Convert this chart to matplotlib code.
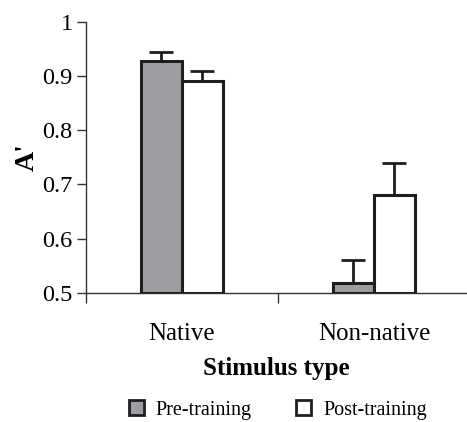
import matplotlib
matplotlib.use("Agg")
import matplotlib.pyplot as plt
from matplotlib.patches import Patch
import numpy as np

categories = ["Native", "Non-native"]
pre_training = [0.928, 0.518]
post_training = [0.891, 0.681]
pre_err = [0.017, 0.043]
post_err = [0.019, 0.059]
series_labels = ["Pre-training", "Post-training"]
yticks = [0.5, 0.6, 0.7, 0.8, 0.9, 1.0]
ytick_labels = ["0.5", "0.6", "0.7", "0.8", "0.9", "1"]

plt.rcParams['font.family'] = ['Liberation Serif', 'DejaVu Serif']

fig = plt.figure(figsize=(4.67, 4.22), dpi=100)
ax = fig.add_axes([0.184, 0.306, 0.814, 0.642])

x = np.arange(len(categories))
w = 0.214
edge = '#1e1e1e'
ax.bar(x - w/2, [v - 0.5 for v in pre_training], w, bottom=0.5, color='#9d9ea1',
       edgecolor=edge, linewidth=2.2, zorder=3)
ax.bar(x + w/2, [v - 0.5 for v in post_training], w, bottom=0.5, color='white',
       edgecolor=edge, linewidth=2.2, zorder=3)
ax.errorbar(x - w/2, pre_training, yerr=[[0]*len(pre_err), pre_err], fmt='none',
            ecolor=edge, elinewidth=2.0, capsize=8.5, capthick=2.0, zorder=2)
ax.errorbar(x + w/2, post_training, yerr=[[0]*len(post_err), post_err], fmt='none',
            ecolor=edge, elinewidth=2.0, capsize=8.5, capthick=2.0, zorder=2)

ax.set_xlim(-0.5, 1.48)
ax.set_ylim(0.5, 1.0)
ax.set_yticks(yticks)
ax.set_yticklabels(ytick_labels, fontsize=17.5)
ax.set_xticks(x)
ax.set_xticklabels(categories, fontsize=18)
ax.set_xticks([-0.5, 0.5], minor=True)
ax.tick_params(axis='x', which='major', length=0, pad=22)
ax.tick_params(axis='x', which='minor', length=7.5, width=1, color='#333333', direction='out')
ax.tick_params(axis='y', length=6.5, width=1, color='#333333', direction='out', pad=3)

for s in ['top', 'right']:
    ax.spines[s].set_visible(False)
for s in ['left', 'bottom']:
    ax.spines[s].set_color('#333333')
    ax.spines[s].set_linewidth(1.0)
ax.spines['left'].set_bounds(0.5, 1.0)

ax.set_ylabel("A'", fontsize=20, fontweight='bold', labelpad=2)
ax.set_xlabel("Stimulus type", fontsize=18, fontweight='bold', labelpad=8)

handles = [Patch(facecolor='#9d9ea1', edgecolor=edge, linewidth=2.0, label=series_labels[0]),
           Patch(facecolor='white', edgecolor=edge, linewidth=2.0, label=series_labels[1])]
fig.legend(handles=handles, loc='center', bbox_to_anchor=(0.595, 0.028), ncol=2,
           frameon=False, fontsize=14.5, handlelength=0.75, handleheight=0.75,
           handletextpad=0.6, columnspacing=2.2)

fig.savefig("out.png", dpi=100)
